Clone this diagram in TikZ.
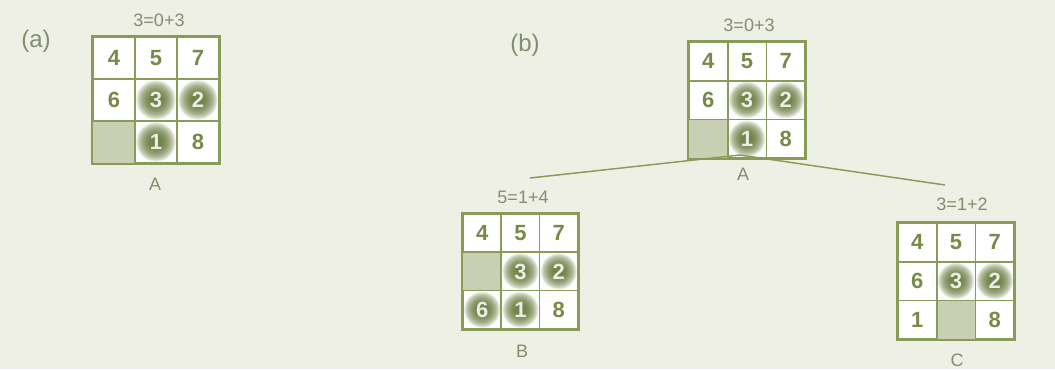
\documentclass[tikz,border=0pt]{standalone}
\usepackage{fontspec}
\setmainfont{Liberation Sans}
\definecolor{bgc}{RGB}{238,240,229}
\definecolor{linec}{RGB}{136,155,88}
\definecolor{digc}{RGB}{120,138,72}
\definecolor{glowc}{RGB}{92,112,44}
\definecolor{blankc}{RGB}{200,207,178}
\definecolor{labc}{RGB}{130,142,110}
\tikzset{
  gridline/.style={draw=linec, line width=1.3pt},
  digit/.style={font=\fontsize{16.5}{16.5}\selectfont\bfseries, text=digc},
  gdigit/.style={font=\fontsize{16.5}{16.5}\selectfont\bfseries, text=white!88!glowc},
  lab/.style={font=\fontsize{13.5}{13.5}\selectfont, text=labc},
  biglab/.style={font=\fontsize{18}{18}\selectfont, text=labc},
  connector/.style={draw=linec, line width=1.1pt},
  gridbox/.style={draw=linec, line width=1.3pt, inner sep=0pt, fill=white},
  glowring/.style={fill=glowc, fill opacity=0.12}
}
\newcommand\puzz[7]{%
  % #1 name, #2 left, #3 top, #4 cell size, #5 normal c/r/t, #6 glow c/r/t, #7 blank c/r
  \node[gridbox, minimum width=3*#4*0.75pt, minimum height=3*#4*0.75pt] (#1) at (#2+1.5*#4, #3+1.5*#4) {};
  \foreach \c/\r in {#7} {\fill[blankc] (#2+\c*#4, #3+\r*#4) rectangle ++(#4, #4);}
  \foreach \c/\r/\t in {#6} {
    \foreach \k in {0,...,13} {
      \fill[glowring] (#2+\c*#4+0.5*#4, #3+\r*#4+0.5*#4) circle ({(0.47-0.025*\k)*#4});
    }
  }
  \foreach \i in {1,2} {
    \draw[gridline] (#2+\i*#4, #3) -- (#2+\i*#4, #3+3*#4);
    \draw[gridline] (#2, #3+\i*#4) -- (#2+3*#4, #3+\i*#4);
  }
  \draw[gridline] (#1.north west) rectangle (#1.south east);
  \foreach \c/\r/\t in {#5} {\node[digit] at (#2+\c*#4+0.5*#4, #3+\r*#4+0.5*#4) {\t};}
  \foreach \c/\r/\t in {#6} {\node[gdigit] at (#2+\c*#4+0.5*#4, #3+\r*#4+0.5*#4) {\t};}
}
\begin{document}
\begin{tikzpicture}[x=0.75pt,y=-0.75pt]
\fill[bgc] (0,0) rectangle (1055,369);
\useasboundingbox (0,0) rectangle (1055,369);
% (a)
\node[biglab] (la) at (36,41) {(a)};
\puzz{ga}{93}{37}{42}{0/0/4,1/0/5,2/0/7,0/1/6,2/2/8}{1/1/3,2/1/2,1/2/1}{0/2}
\node[lab] (ha) at (159,20) {3=0+3};
\node[lab] (na) at (155,184) {A};
% (b)
\node[biglab] (lb) at (525,45) {(b)};
\puzz{gA}{689}{42}{38.7}{0/0/4,1/0/5,2/0/7,0/1/6,2/2/8}{1/1/3,2/1/2,1/2/1}{0/2}
\node[lab] (hA) at (749,25) {3=0+3};
\node[lab] (nA) at (743,174) {A};
\puzz{gB}{463}{214}{38.3}{0/0/4,1/0/5,2/0/7,2/2/8}{1/1/3,2/1/2,0/2/6,1/2/1}{0/1}
\node[lab] (hB) at (523,197) {5=1+4};
\node[lab] (nB) at (522,351) {B};
\puzz{gC}{898}{223}{38.7}{0/0/4,1/0/5,2/0/7,0/1/6,0/2/1,2/2/8}{1/1/3,2/1/2}{1/2}
\node[lab] (hC) at (962,204) {3=1+2};
\node[lab] (nC) at (957,360) {C};
% connectors
\coordinate (top) at (740,155);
\coordinate (endB) at (530,178);
\coordinate (endC) at (945,185);
\draw[connector] (top) -- (endB);
\draw[connector] (top) -- (endC);
\end{tikzpicture}
\end{document}
